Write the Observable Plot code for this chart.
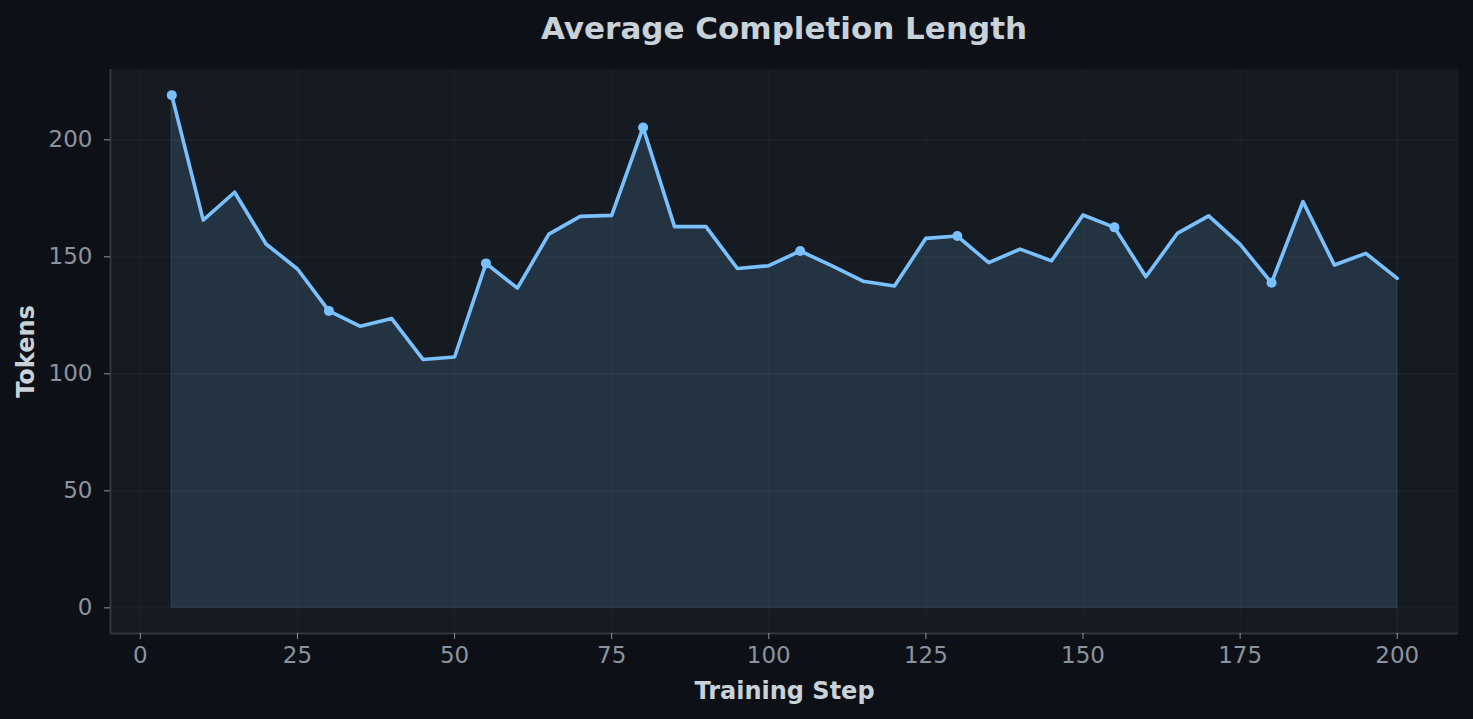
<!DOCTYPE html>
<html>
<head>
<meta charset="utf-8">
<script src="https://cdn.jsdelivr.net/npm/d3@7"></script>
<script src="https://cdn.jsdelivr.net/npm/@observablehq/plot@0.6"></script>
<style>
  html, body { margin: 0; padding: 0; background: #0d1117; }
  #title {
    width: 1473px; height: 56px; box-sizing: border-box;
    padding-left: 110px; padding-right: 15px;
    text-align: center; font-family: "DejaVu Sans", sans-serif;
    font-weight: bold; font-size: 31px; line-height: 56px; color: #c9d1d9;
  }
</style>
</head>
<body>
<div id="title">Average Completion Length</div>
<div id="chart"></div>
<script>
const steps = [5,10,15,20,25,30,35,40,45,50,55,60,65,70,75,80,85,90,95,100,
               105,110,115,120,125,130,135,140,145,150,155,160,165,170,175,180,185,190,195,200];
const tokens = [219.1,165.7,177.6,155.5,144.8,126.9,120.3,123.6,106.1,107.2,
                147.2,136.6,159.7,167.3,167.7,205.3,162.9,162.9,145.0,146.2,
                152.5,146.2,139.6,137.5,157.9,158.9,147.5,153.3,148.3,167.9,
                162.6,141.5,160.0,167.5,155.3,138.9,173.6,146.5,151.5,140.8];
const markerSteps = [5,30,55,80,105,130,155,180];
const xTicks = [0,25,50,75,100,125,150,175,200];
const yTicks = [0,50,100,150,200];

const data = steps.map((s, i) => ({step: s, tokens: tokens[i]}));
const markers = data.filter(d => markerSteps.includes(d.step));

const xMin = d3.min(steps), xMax = d3.max(steps), xPad = (xMax - xMin) * 0.05;
const yMin = 0, yMax = d3.max(tokens), yPad = (yMax - yMin) * 0.05;
const xDomain = [xMin - xPad, xMax + xPad];
const yDomain = [yMin - yPad, yMax + yPad];

const lineColor = "#79c0ff";
const gridColor = "#ffffff";

const chart = Plot.plot({
  width: 1473,
  height: 663,
  marginTop: 13,
  marginBottom: 86,
  marginLeft: 110,
  marginRight: 15,
  style: {background: "transparent", color: "#8b949e", fontFamily: "DejaVu Sans, sans-serif", fontSize: "23px"},
  x: {domain: xDomain},
  y: {domain: yDomain},
  marks: [
    Plot.frame({fill: "#161b22", stroke: null}),
    Plot.gridX(xTicks, {stroke: gridColor, strokeOpacity: 0.03, strokeWidth: 1.2}),
    Plot.gridY(yTicks, {stroke: gridColor, strokeOpacity: 0.03, strokeWidth: 1.2}),
    Plot.areaY(data, {x: "step", y: "tokens", fill: lineColor, fillOpacity: 0.15, stroke: lineColor, strokeOpacity: 0.12, strokeWidth: 1.5}),
    Plot.line(data, {x: "step", y: "tokens", stroke: lineColor, strokeWidth: 3.6, strokeLinejoin: "round"}),
    Plot.dot(markers, {x: "step", y: "tokens", r: 5, fill: lineColor, stroke: null}),
    Plot.ruleX([xDomain[0]], {stroke: "#30363d", strokeWidth: 2}),
    Plot.ruleY([yDomain[0]], {stroke: "#30363d", strokeWidth: 2}),
    Plot.axisX({ticks: xTicks, tickSize: 6, tickPadding: 7, stroke: "#8b949e", fill: "#8b949e", label: null}),
    Plot.axisY({ticks: yTicks, tickSize: 6, tickPadding: 12, stroke: "#8b949e", fill: "#8b949e", label: null}),
    Plot.text(["Training Step"], {frameAnchor: "bottom", dy: 58, textAnchor: "middle", fontWeight: "bold", fontSize: 24, fill: "#c9d1d9", lineAnchor: "middle"}),
    Plot.text(["Tokens"], {frameAnchor: "left", dx: -84, rotate: -90, textAnchor: "middle", fontWeight: "bold", fontSize: 24, fill: "#c9d1d9", lineAnchor: "middle"})
  ]
});
document.getElementById("chart").appendChild(chart);
</script>
</body>
</html>
